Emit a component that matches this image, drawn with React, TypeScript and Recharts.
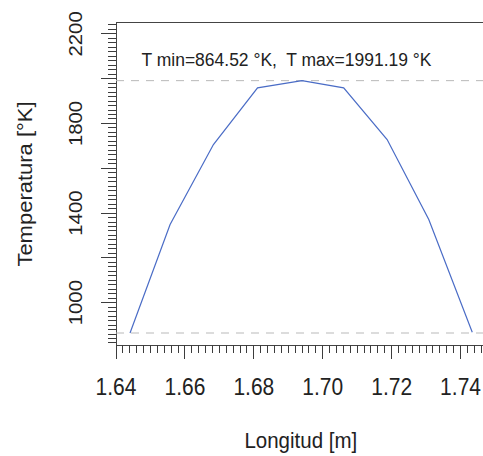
import React from "react";
import { LineChart, Line, XAxis, YAxis, ReferenceLine, ReferenceArea } from "recharts";

// perfil de temperatura a lo largo de la pieza
const LONGITUD = [1.64407, 1.6557, 1.66828, 1.68108, 1.69398, 1.70608, 1.71869, 1.73078, 1.7434];
const TEMPERATURA = [864.52, 1349, 1706, 1959, 1991.19, 1959, 1728, 1371, 868];

const T_MIN = 864.52;
const T_MAX = 1991.19;

const X_DOMAIN: [number, number] = [1.64, 1.75];
const Y_DOMAIN: [number, number] = [811, 2253];
const X_LABELS = [1.64, 1.66, 1.68, 1.7, 1.72, 1.74];
const Y_LABELS = [1000, 1400, 1800, 2200];

// marcas menores cada 0.002 m y cada 20 °K
const xTicks: number[] = [];
for (let i = 0; i <= 55; i++) xTicks.push(Math.round((1.64 + i * 0.002) * 1000) / 1000);
const yTicks: number[] = [];
for (let v = 820; v <= 2240; v += 20) yTicks.push(v);

const data = LONGITUD.map((x, i) => ({ x, t: TEMPERATURA[i] }));

const W = 495;
const H = 456;
const LEFT = 116;
const TOP = 22;
const XAXIS_H = 111;
const BOTTOM = H - XAXIS_H;

const ink = "#222";
const tickInk = "#3c3c3c";
const font = "'Liberation Sans', Arial, sans-serif";

function XTick(props: any) {
  const { x, payload } = props;
  const v = payload.value as number;
  const major = Math.round(v * 1000) % 20 === 0;
  const label = X_LABELS.some((l) => Math.abs(l - v) < 1e-6);
  return (
    <g>
      <line x1={x} x2={x} y1={BOTTOM} y2={BOTTOM + (major ? 14 : 8)} stroke={tickInk} strokeWidth={1} shapeRendering="crispEdges" />
      {label && (
        <text
          transform={`translate(${x},395) scale(1,1.1)`}
          textAnchor="middle"
          fontSize={21}
          fontFamily={font}
          fill={ink}
        >
          {v.toFixed(2)}
        </text>
      )}
    </g>
  );
}

function YTick(props: any) {
  const { y, payload } = props;
  const v = payload.value as number;
  const major = v % 200 === 0;
  const label = Y_LABELS.includes(v);
  return (
    <g>
      <line x1={LEFT - (major ? 15 : 8)} x2={LEFT} y1={y} y2={y} stroke={tickInk} strokeWidth={1} shapeRendering="crispEdges" />
      {label && (
        <text
          transform={`translate(81.5,${y}) scale(1,1.1) rotate(-90)`}
          textAnchor="middle"
          fontSize={18.5}
          fontFamily={font}
          fill={ink}
        >
          {v}
        </text>
      )}
    </g>
  );
}

export default function App() {
  return (
    <div style={{ position: "absolute", left: 0, top: 0, width: 483, height: 456, overflow: "hidden", background: "#fff" }}>
      <LineChart width={W} height={H} data={data} margin={{ top: TOP, right: 0, bottom: 0, left: 0 }}>
        <XAxis
          dataKey="x"
          type="number"
          domain={X_DOMAIN}
          allowDataOverflow
          ticks={xTicks}
          interval={0}
          height={XAXIS_H}
          axisLine={false}
          tickLine={false}
          tick={<XTick />}
        />
        <YAxis
          type="number"
          domain={Y_DOMAIN}
          allowDataOverflow
          ticks={yTicks}
          interval={0}
          width={LEFT}
          axisLine={false}
          tickLine={false}
          tick={<YTick />}
        />
        <ReferenceArea
          x1={X_DOMAIN[0]}
          x2={X_DOMAIN[1]}
          y1={Y_DOMAIN[0]}
          y2={Y_DOMAIN[1]}
          fill="none"
          stroke="#444"
          strokeWidth={1}
          shapeRendering="crispEdges"
          ifOverflow="visible"
        />
        <ReferenceLine y={T_MAX} stroke="#b9b9b9" strokeDasharray="8 7" strokeWidth={1} />
        <ReferenceLine y={T_MIN} stroke="#b9b9b9" strokeDasharray="8 7" strokeWidth={1} />
        <Line
          type="linear"
          dataKey="t"
          stroke="#4a6cc6"
          strokeWidth={1.2}
          dot={false}
          activeDot={false}
          isAnimationActive={false}
        />
      </LineChart>
      <svg width={483} height={456} style={{ position: "absolute", left: 0, top: 0, pointerEvents: "none" }}>
        <text
          transform="translate(286.5,65.7) scale(1,1.1)"
          textAnchor="middle"
          fontSize={17.5}
          fontFamily={font}
          fill={ink}
          style={{ whiteSpace: "pre" }}
        >
          {`T min=${T_MIN.toFixed(2)} °K,  T max=${T_MAX.toFixed(2)} °K`}
        </text>
        <text transform="translate(300.8,448.3) scale(1,1.1)" textAnchor="middle" fontSize={20.5} fontFamily={font} fill={ink}>
          Longitud [m]
        </text>
        <text transform="translate(31.5,184) scale(1,1.1) rotate(-90)" textAnchor="middle" fontSize={20} fontFamily={font} fill={ink}>
          Temperatura [°K]
        </text>
      </svg>
    </div>
  );
}
